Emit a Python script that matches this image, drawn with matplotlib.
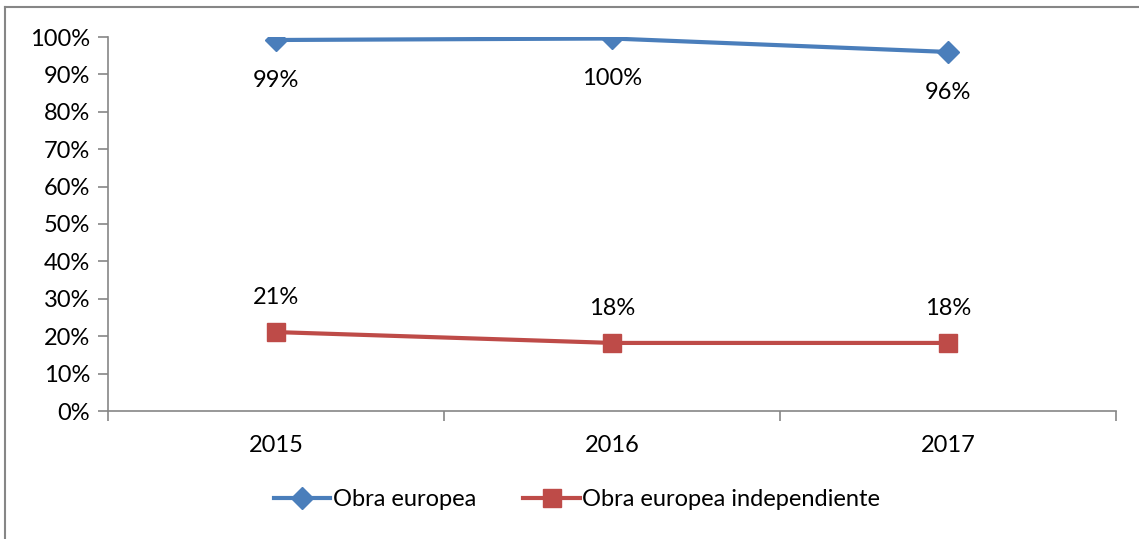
import matplotlib
matplotlib.use("Agg")
import matplotlib.pyplot as plt
from matplotlib.lines import Line2D

years = ["2015", "2016", "2017"]
obra_europea = [99.2, 99.6, 96.0]
obra_indep = [21.1, 18.2, 18.2]
labels_europea = ["99%", "100%", "96%"]
labels_indep = ["21%", "18%", "18%"]
yticks = list(range(0, 101, 10))

plt.rcParams['font.family'] = ['Lato', 'DejaVu Sans']
FS = 17

W, H = 1139, 539
fig = plt.figure(figsize=(W/100, H/100), dpi=100)
ax = fig.add_axes([108/W, 1-411/H, (1116-108)/W, (411-37)/H])

blue = '#4A7EBB'
red = '#BE4B48'
x = list(range(len(years)))
ax.plot(x, obra_europea, color=blue, lw=3, marker='D', ms=11.5, label='Obra europea')
ax.plot(x, obra_indep, color=red, lw=3, marker='s', ms=13, label='Obra europea independiente')

for xi, v, t in zip(x, obra_europea, labels_europea):
    ax.annotate(t, (xi, v), xytext=(0, -29), textcoords='offset points',
                ha='center', va='center', fontsize=FS)
for xi, v, t in zip(x, obra_indep, labels_indep):
    ax.annotate(t, (xi, v), xytext=(0, 25), textcoords='offset points',
                ha='center', va='center', fontsize=FS)

ax.set_xlim(-0.5, 2.5)
ax.set_ylim(0, 100)
ax.set_yticks(yticks)
ax.set_yticklabels([f"{t}%" for t in yticks], fontsize=FS)
ax.set_xticks(x)
ax.set_xticklabels(years, fontsize=FS)
ax.set_xticks([-0.5, 0.5, 1.5, 2.5], minor=True)
ax.tick_params(axis='x', which='major', length=0, pad=17)
ax.tick_params(axis='x', which='minor', length=7, color='#868686', width=1.2)
ax.tick_params(axis='y', length=7, color='#868686', width=1.2, pad=6)
for s in ['top', 'right']:
    ax.spines[s].set_visible(False)
for s in ['left', 'bottom']:
    ax.spines[s].set_color('#868686')
    ax.spines[s].set_linewidth(1.2)
ax.patch.set_alpha(0)

handles = [Line2D([], [], color=blue, lw=3, marker='D', ms=11.5),
           Line2D([], [], color=red, lw=3, marker='s', ms=13)]
fig.legend(handles, ['Obra europea', 'Obra europea independiente'],
           loc='center', bbox_to_anchor=(577/W, 1-500/H), ncol=2, frameon=False,
           fontsize=FS, handlelength=2.4, handletextpad=0.1, columnspacing=2.0)

fig.add_artist(Line2D([5/W, 5/W], [0, 1-7/H], color='#868686', lw=1.5))
fig.add_artist(Line2D([5/W, 1], [1-7/H, 1-7/H], color='#868686', lw=1.5))

fig.savefig('out.png', dpi=100, facecolor='white')
